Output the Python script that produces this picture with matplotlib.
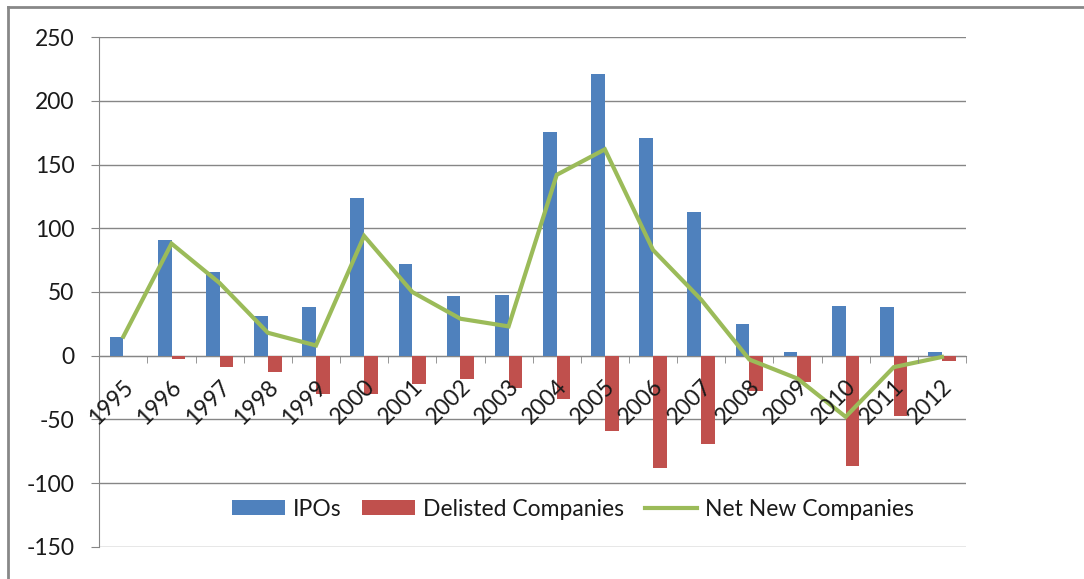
import matplotlib
matplotlib.use("Agg")
import matplotlib.pyplot as plt
import matplotlib.transforms as mtransforms
from matplotlib.lines import Line2D
import numpy as np

# Data
years = ["1995", "1996", "1997", "1998", "1999", "2000", "2001", "2002", "2003",
         "2004", "2005", "2006", "2007", "2008", "2009", "2010", "2011", "2012"]
ipos = [15, 91, 66, 31, 38, 124, 72, 47, 48, 176, 221, 171, 113, 25, 3, 39, 38, 3]
delisted = [0, -3, -9, -13, -30, -30, -22, -18, -25, -34, -59, -88, -69, -28, -21, -87, -47, -4]
net_new = [15, 88, 57, 18, 8, 94, 50, 29, 23, 142, 162, 83, 44, -3, -18, -48, -9, -1]

BLUE = "#4F81BD"
RED = "#C0504D"
GREEN = "#9BBB59"
GRID = "#868686"
TXT = "#1a1a1a"
FS = 16.5

plt.rcParams["font.family"] = ["Lato", "DejaVu Sans"]
plt.rcParams["axes.unicode_minus"] = False

W, H = 1084, 579
fig = plt.figure(figsize=(W / 100, H / 100), dpi=100)
ax = fig.add_axes([99.3 / W, 1 - 546.7 / H, (966 - 99.3) / W, (546.7 - 37.3) / H])

x = np.arange(len(years))
w = 0.285
b1 = ax.bar(x - w / 2, ipos, width=w, color=BLUE, label="IPOs", zorder=2)
b2 = ax.bar(x + w / 2, delisted, width=w, color=RED, label="Delisted Companies", zorder=2)
l1, = ax.plot(x, net_new, color=GREEN, lw=3, label="Net New Companies", zorder=3,
              solid_joinstyle="miter")

ax.set_xlim(-0.5, len(years) - 0.5)
ax.set_ylim(-150, 250)
ax.set_yticks(range(-150, 251, 50))
ax.yaxis.grid(True, color=GRID, lw=1.0)
ax.yaxis.set_zorder(0.5)
ax.xaxis.set_zorder(4)

for s in ["top", "right"]:
    ax.spines[s].set_visible(False)
ax.spines["left"].set_color(GRID)
ax.spines["bottom"].set_color(GRID)
ax.spines["bottom"].set_position(("data", 0))
ax.spines["bottom"].set_zorder(1.5)

ax.tick_params(axis="y", direction="out", length=6, color=GRID, labelsize=FS,
               pad=12, labelcolor=TXT)

# category labels at centres, tick marks at boundaries
ax.set_xticks(x)
ax.set_xticklabels(years, rotation=45, ha="right", va="center",
                   rotation_mode="anchor", fontsize=FS, color=TXT)
ax.set_xticks(np.arange(-0.5, len(years), 1.0), minor=True)
ax.tick_params(axis="x", which="major", length=0, pad=20)
ax.tick_params(axis="x", which="minor", length=5, color=GRID, direction="out")
shift = mtransforms.ScaledTranslation(7 / 100, 0, fig.dpi_scale_trans)
for lab in ax.get_xticklabels():
    lab.set_transform(lab.get_transform() + shift)

leg = ax.legend([b1, b2, l1], ["IPOs", "Delisted Companies", "Net New Companies"],
                loc="center", bbox_to_anchor=(0.547, 0.074), ncol=3, frameon=False,
                fontsize=FS, handlelength=2.3, handleheight=0.6, columnspacing=0.9,
                handletextpad=0.35)
for t in leg.get_texts():
    t.set_color(TXT)

# outer chart border (top and left edges visible)
fig.add_artist(Line2D([8 / W, 1], [1 - 7 / H, 1 - 7 / H], color="#888888", lw=2))
fig.add_artist(Line2D([8 / W, 8 / W], [0, 1 - 7 / H], color="#888888", lw=2))

fig.savefig("out.png", dpi=100)
